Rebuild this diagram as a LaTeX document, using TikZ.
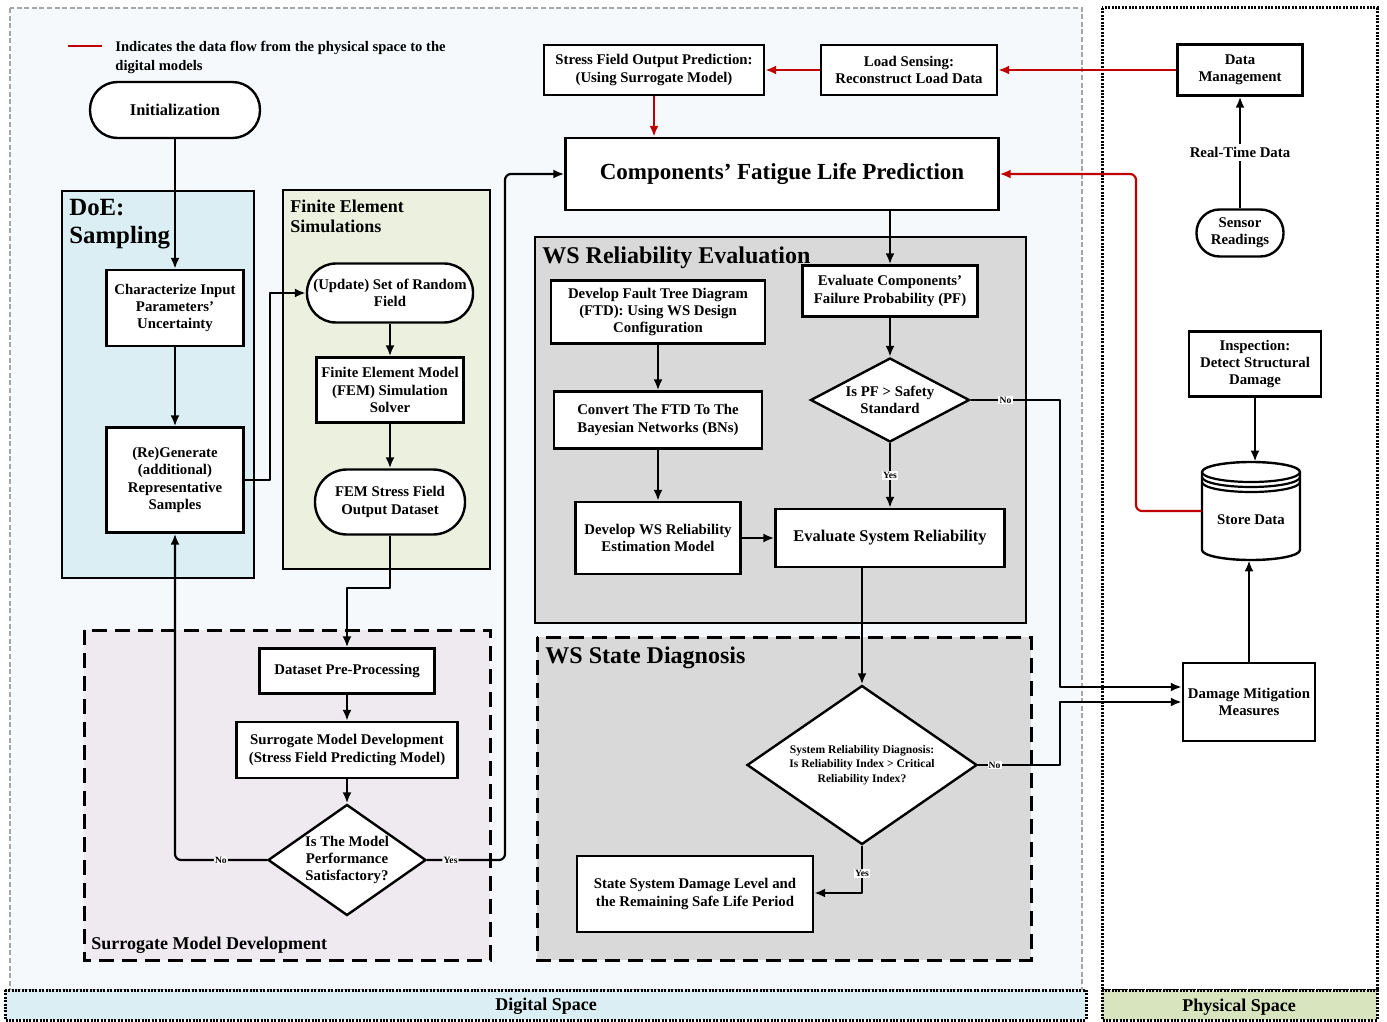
\documentclass[tikz,border=0pt]{standalone}
\usepackage{fontspec}
\setmainfont{Liberation Serif}
\usetikzlibrary{arrows.meta, shapes.geometric, positioning}
\definecolor{digibg}{HTML}{F5F9FB}
\definecolor{doebg}{HTML}{DAEEF3}
\definecolor{febg}{HTML}{EBF1DE}
\definecolor{surbg}{HTML}{EEEAF0}
\definecolor{wsbg}{HTML}{D9D9D9}
\definecolor{physbg}{HTML}{D7E4BD}
\definecolor{dataflow}{HTML}{C00000}
\newcommand{\boxfont}{\fontsize{7.4}{8.7}\selectfont\bfseries}
\newcommand{\midfont}{\fontsize{8.2}{9.8}\selectfont\bfseries}
\newcommand{\bigfont}{\fontsize{11.5}{13}\selectfont\bfseries}
\newcommand{\headfont}{\fontsize{12}{14}\selectfont\bfseries}
\newcommand{\subheadfont}{\fontsize{9}{10}\selectfont\bfseries}
\newcommand{\narrowfont}{\fontsize{5.8}{7.2}\selectfont\bfseries}
\newcommand{\ynfont}{\fontsize{4.8}{5}\selectfont\bfseries}
\tikzstyle{blk}=[draw, line width=1.2pt, fill=white, align=center, font=\boxfont, inner sep=1pt]
\tikzstyle{dec}=[draw, diamond, line width=1.2pt, fill=white, inner sep=0pt]
\tikzstyle{dectxt}=[font=\boxfont, align=center]
\tikzstyle{flow}=[line width=1.1pt, ->, line join=round]
\tikzstyle{rflow}=[flow, draw=dataflow]
\tikzstyle{yn}=[fill=white, inner sep=0.6pt, font=\ynfont]
\tikzstyle{region}=[line width=1.2pt]
\tikzstyle{dashregion}=[line width=1.5pt, dash pattern=on 7.5pt off 4pt]
\tikzstyle{dotregion}=[line width=1.5pt, dash pattern=on 1pt off 0.7pt]
\tikzset{>={Latex[length=5.5pt,width=4.5pt]}}

\begin{document}
\begin{tikzpicture}[x=0.5pt, y=-0.5pt]
\useasboundingbox (0,0) rectangle (1387,1022);
% spaces
\draw[fill=digibg, draw=gray!70, line width=0.9pt, dash pattern=on 2.5pt off 1.3pt] (10,8) rectangle (1082,990);
\draw[dotregion, fill=white] (1102,8) rectangle (1377,990);
\draw[dotregion, fill=doebg] (5,990) rectangle (1086,1020);
\draw[dotregion, fill=physbg] (1102,990) rectangle (1377,1020);
\node[font=\subheadfont] (digilbl) at (546,1006) {Digital Space};
\node[font=\subheadfont] (physlbl) at (1239,1007) {Physical Space};
% legend
\draw[draw=dataflow, line width=1.2pt] (68,46) -- (102,46);
\node[anchor=north west, align=left, font=\fontsize{7.3}{9.5}\selectfont\bfseries, inner sep=0pt] (legend) at (115,41) {Indicates the data flow from the physical space to the\\digital models};
% regions
\draw[region, fill=doebg] (62,191) rectangle (254,578);
\draw[region, fill=febg] (283,190) rectangle (490,569);
\draw[dashregion, fill=surbg] (84,630) rectangle (490,960);
\draw[region, fill=wsbg] (535,237) rectangle (1026,623);
\draw[dashregion, fill=wsbg] (537,637) rectangle (1031,960);
\node[anchor=north west, align=left, font=\fontsize{12.4}{14}\selectfont\bfseries, inner sep=0pt] (doettl) at (69,199) {DoE:\\Sampling};
\node[anchor=north west, align=left, font=\subheadfont, inner sep=0pt] (fettl) at (290,200) {Finite Element\\Simulations};
\node[anchor=west, font=\subheadfont, inner sep=0pt] (surttl) at (91,945) {Surrogate Model Development};
\node[anchor=west, font=\headfont, inner sep=0pt] (relttl) at (542,258) {WS Reliability Evaluation};
\node[anchor=west, font=\headfont, inner sep=0pt] (statettl) at (545,658) {WS State Diagnosis};
% digital models
\node[blk, rounded corners=13.8pt, minimum width=85pt, minimum height=28pt, font=\midfont] (init) at (175,110) {Initialization};
\node[blk, minimum width=68.5pt, minimum height=38pt] (char) at (175,308) {Characterize Input\\Parameters’\\Uncertainty};
\node[blk, minimum width=68.5pt, minimum height=52.5pt] (regen) at (175,480) {(Re)Generate\\(additional)\\Representative\\Samples};
\node[blk, rounded corners=14.5pt, minimum width=83pt, minimum height=29.5pt] (update) at (390,293) {(Update) Set of Random\\Field};
\node[blk, minimum width=73.5pt, minimum height=32.5pt] (fem) at (390,390) {Finite Element Model\\(FEM) Simulation\\Solver};
\node[blk, rounded corners=16pt, minimum width=75pt, minimum height=32.5pt] (femout) at (390,502) {FEM Stress Field\\Output Dataset};
\node[blk, minimum width=87.5pt, minimum height=22.5pt] (prep) at (347,671) {Dataset Pre-Processing};
\node[blk, minimum width=110.5pt, minimum height=28pt] (surr) at (347,750) {Surrogate Model Development\\(Stress Field Predicting Model)};
\node[dec, minimum width=79pt, minimum height=55.5pt, label={[dectxt]center:{Is The Model\\Performance\\Satisfactory?}}] (sat) at (347,860) {};
\node[blk, minimum width=110pt, minimum height=25pt] (sfout) at (654,70) {Stress Field Output Prediction:\\(Using Surrogate Model)};
\node[blk, minimum width=88pt, minimum height=25pt] (load) at (909,70) {Load Sensing:\\Reconstruct Load Data};
\node[blk, minimum width=216.5pt, minimum height=36pt, font=\bigfont] (comp) at (782,174) {Components’ Fatigue Life Prediction};
\node[blk, minimum width=107pt, minimum height=31.5pt] (ftd) at (658,312) {Develop Fault Tree Diagram\\(FTD): Using WS Design\\Configuration};
\node[blk, minimum width=104pt, minimum height=28.5pt] (bn) at (658,420) {Convert The FTD To The\\Bayesian Networks (BNs)};
\node[blk, minimum width=82.5pt, minimum height=36pt] (wsrel) at (658,538) {Develop WS Reliability\\Estimation Model};
\node[blk, minimum width=87.5pt, minimum height=25.5pt] (evalpf) at (890,291) {Evaluate Components’\\Failure Probability (PF)};
\node[dec, minimum width=79.5pt, minimum height=42pt, label={[dectxt]center:{Is PF > Safety\\Standard}}] (pf) at (890,400) {};
\node[blk, minimum width=114.5pt, minimum height=29pt, font=\midfont] (evalsys) at (890,538) {Evaluate System Reliability};
\node[dec, minimum width=115pt, minimum height=79.5pt, label={[font=\narrowfont, align=center]center:{System Reliability Diagnosis:\\Is Reliability Index > Critical\\Reliability Index?}}] (rel) at (862,765) {};
\node[blk, minimum width=118pt, minimum height=38pt] (state) at (695,894) {State System Damage Level and\\the Remaining Safe Life Period};
% physical space
\node[blk, minimum width=62.5pt, minimum height=25.5pt] (dm) at (1240,70) {Data\\Management};
\node[blk, rounded corners=11.5pt, minimum width=43.5pt, minimum height=23.5pt] (sensor) at (1240,233) {Sensor\\Readings};
\node[blk, minimum width=66pt, minimum height=32.5pt] (insp) at (1255,364) {Inspection:\\Detect Structural\\Damage};
\node[blk, minimum width=66pt, minimum height=39pt] (mitig) at (1249,702) {Damage Mitigation\\Measures};
% store data cylinder
\draw[line width=1.2pt, fill=white] (1202,472) -- (1202,550) arc[start angle=180, end angle=360, x radius=24.5pt, y radius=5pt] -- (1300,472) arc[start angle=0, end angle=180, x radius=24.5pt, y radius=5pt] -- cycle;
\foreach \dy in {472,477,482}
  \draw[line width=1.1pt] (1202,\dy) arc[start angle=180, end angle=360, x radius=24.5pt, y radius=5pt];
\node[minimum width=49pt, minimum height=49pt, inner sep=0pt, label={[font=\boxfont, yshift=-4.5pt]center:Store Data}] (store) at (1251,511) {};
% connectors
\draw[flow] (init) -- (char);
\draw[flow] (char) -- (regen);
\draw[flow] (regen.east) -- (270,480) |- (update.west);
\draw[flow] (update) -- (fem);
\draw[flow] (fem) -- (femout);
\draw[flow] (femout.south) -- (390,588) -| (prep.north);
\draw[flow] (prep) -- (surr);
\draw[flow] (surr) -- (sat);
\draw[flow, rounded corners=3pt] (sat.west) -- node[yn]{No} (175,860) -- (regen.south);
\draw[flow, rounded corners=3pt] (sat.east) -- node[yn, pos=0.3]{Yes} (505,860) |- (comp.west);
\draw[flow] (comp.south -| evalpf.north) -- (evalpf.north);
\draw[flow] (evalpf) -- (pf);
\draw[flow] (pf.south) -- node[yn]{Yes} (evalsys.north);
\draw[flow] (ftd) -- (bn);
\draw[flow] (bn.south) -- (bn.south |- wsrel.north);
\draw[flow] (wsrel.east) -- (wsrel.east -| evalsys.west);
\draw[flow] (evalsys.south -| rel.north) -- (rel.north);
\draw[flow] (rel.south) -- node[yn, pos=0.58]{Yes} (862,893) -- (state.east |- 862,893);
\draw[flow] (pf.east) -- node[yn, pos=0.39]{No} (1060,400) |- ([yshift=7.5pt]mitig.west);
\draw[flow] (rel.east) -- node[yn, pos=0.2]{No} (1060,765) |- (mitig.west);
\draw[flow] (sensor.north) -- node[fill=white, font=\boxfont, inner sep=1.5pt]{Real-Time Data} (dm.south);
\draw[flow] (insp.south) -- (insp.south |- store.north);
\draw[flow] (mitig.north) -- (mitig.north |- store.south);
% data flow from physical space
\draw[rflow] (dm.west) -- (load.east);
\draw[rflow] (load.west) -- (sfout.east);
\draw[rflow] (sfout.south) -- (sfout.south |- comp.north);
\draw[rflow, rounded corners=3pt] (store.west) -- (1136,511) |- (comp.east);
\end{tikzpicture}
\end{document}
